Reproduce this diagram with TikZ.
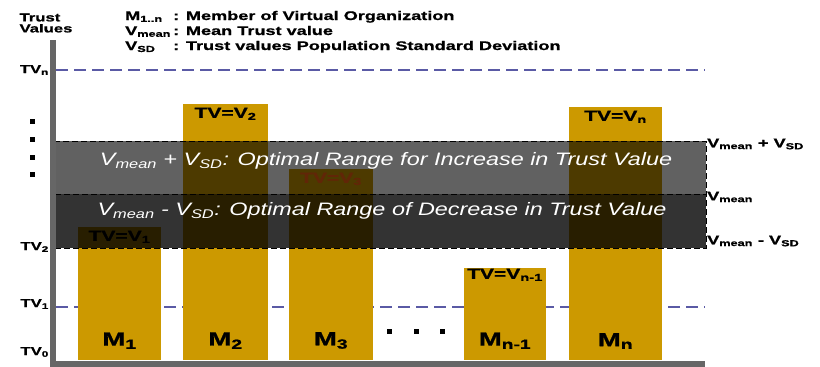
\documentclass[tikz,border=0pt]{standalone}
\usepackage{fontspec}
\setmainfont{Liberation Sans}
\newfontfamily\heavy[FakeStretch=1.45,FakeBold=1]{Liberation Sans Bold}
\newfontfamily\bandfont[FakeStretch=1.3]{Liberation Sans Italic}
\usetikzlibrary{positioning}
\definecolor{barcol}{RGB}{204,153,0}
\definecolor{axiscol}{RGB}{102,102,102}
\definecolor{tvline}{RGB}{90,90,165}
\definecolor{vthree}{RGB}{255,100,20}
\newcommand{\lo}[1]{\textsubscript{#1}}

\begin{document}
\begin{tikzpicture}[x=1pt,y=-1pt,
    bar/.style={fill=barcol,inner sep=0pt,anchor=south},
    tvlab/.style={inner sep=0pt,font=\fontsize{14.5}{14.5}\heavy},
    memlab/.style={inner sep=0pt,font=\fontsize{19}{19}\heavy},
    axlab/.style={inner sep=0pt,anchor=east,font=\fontsize{11.5}{11.5}\heavy},
    rlab/.style={inner sep=0pt,anchor=west,font=\fontsize{12.5}{12.5}\heavy},
    keylab/.style={inner sep=0pt,anchor=base west,font=\fontsize{12.5}{12.5}\heavy},
    bandtxt/.style={inner sep=0pt,text=white,font=\fontsize{18}{18}\bandfont},
    band/.style={draw=black,dash pattern=on 6pt off 3pt,line width=0.8pt,fill=black},
    dotmark/.style={fill=black,inner sep=0pt,minimum size=5pt},
    tvdash/.style={draw=tvline,line width=2pt,dash pattern=on 12pt off 6pt},
    axis/.style={draw=axiscol,line width=6pt}]
  \useasboundingbox (0,0) rectangle (820,367);

  % legend
  \node[keylab] (k1) at (125,20) {M\lo{1..n}};
  \node[keylab] (k2) at (125,35) {V\lo{mean}};
  \node[keylab] (k3) at (125,50) {V\lo{SD}};
  \node[keylab] (d1) at (173,20) {: Member of Virtual Organization};
  \node[keylab] (d2) at (173,35) {: Mean Trust value};
  \node[keylab] (d3) at (173,50) {: Trust values Population Standard Deviation};

  % trust value levels
  \coordinate (tvn) at (56,70);
  \coordinate (tvnend) at (705,70);
  \coordinate (tv1) at (56,307);
  \coordinate (tv1end) at (705,307);
  \draw[tvdash] (tvn) -- (tvnend);
  \draw[tvdash] (tv1) -- (tv1end);

  % members
  \node[bar,minimum width=83pt,minimum height=133pt] (m1) at (119.5,360) {};
  \node[bar,minimum width=85pt,minimum height=256pt] (m2) at (225.5,360) {};
  \node[bar,minimum width=84pt,minimum height=191pt] (m3) at (331,360) {};
  \node[bar,minimum width=82pt,minimum height=92pt] (mn1) at (505,360) {};
  \node[bar,minimum width=93pt,minimum height=253pt] (mn) at (615.5,360) {};

  \node[tvlab,below=4pt of m1.north] (v1) {TV=V\lo{1}};
  \node[tvlab,below=4pt of m2.north] (v2) {TV=V\lo{2}};
  \node[tvlab,below=4pt of m3.north,text=vthree] (v3) {TV=V\lo{3}};
  \node[tvlab,below=1pt of mn1.north] (vn1) {TV=V\lo{n-1}};
  \node[tvlab,below=4pt of mn.north] (vn) {TV=V\lo{n}};

  \node[memlab,above=11pt of m1.south] (l1) {M\lo{1}};
  \node[memlab,above=11pt of m2.south] (l2) {M\lo{2}};
  \node[memlab,above=11pt of m3.south] (l3) {M\lo{3}};
  \node[memlab,above=11pt of mn1.south] (ln1) {M\lo{n-1}};
  \node[memlab,above=11pt of mn.south] (ln) {M\lo{n}};

  \foreach \x [count=\i] in {389,416,442}
    \node[dotmark] (h\i) at (\x,331) {};

  % optimal ranges
  \node[band,fill opacity=0.62,minimum width=651pt,minimum height=53pt] (inc) at (380.5,167.5) {};
  \node[band,fill opacity=0.8,minimum width=651pt,minimum height=54pt] (dec) at (380.5,221) {};
  \node[bandtxt] (inctxt) at (386,161) {V\lo{mean} + V\lo{SD}: Optimal Range for Increase in Trust Value};
  \node[bandtxt] (dectxt) at (382,211) {V\lo{mean} - V\lo{SD}: Optimal Range of Decrease in Trust Value};

  \node[rlab] (r1) at (707,144) {V\lo{mean} + V\lo{SD}};
  \node[rlab] (r2) at (707,197) {V\lo{mean}};
  \node[rlab] (r3) at (707,241) {V\lo{mean} - V\lo{SD}};

  % axes
  \coordinate (ytop) at (53,40);
  \coordinate (origin) at (53,363.5);
  \coordinate (xend) at (705,363.5);
  \draw[axis] (ytop) -- (origin) -- (xend);

  \node[inner sep=0pt,align=left,font=\fontsize{11.5}{11}\heavy] (ylab) at (46,23) {Trust\\Values};
  \node[axlab] (yn) at (49,70) {TV\lo{n}};
  \node[axlab] (y2) at (49,247) {TV\lo{2}};
  \node[axlab] (y1) at (49,304) {TV\lo{1}};
  \node[axlab] (y0) at (49,352) {TV\lo{0}};
  \foreach \y [count=\i] in {121,139,157,174}
    \node[dotmark] (dt\i) at (32,\y) {};
\end{tikzpicture}
\end{document}
